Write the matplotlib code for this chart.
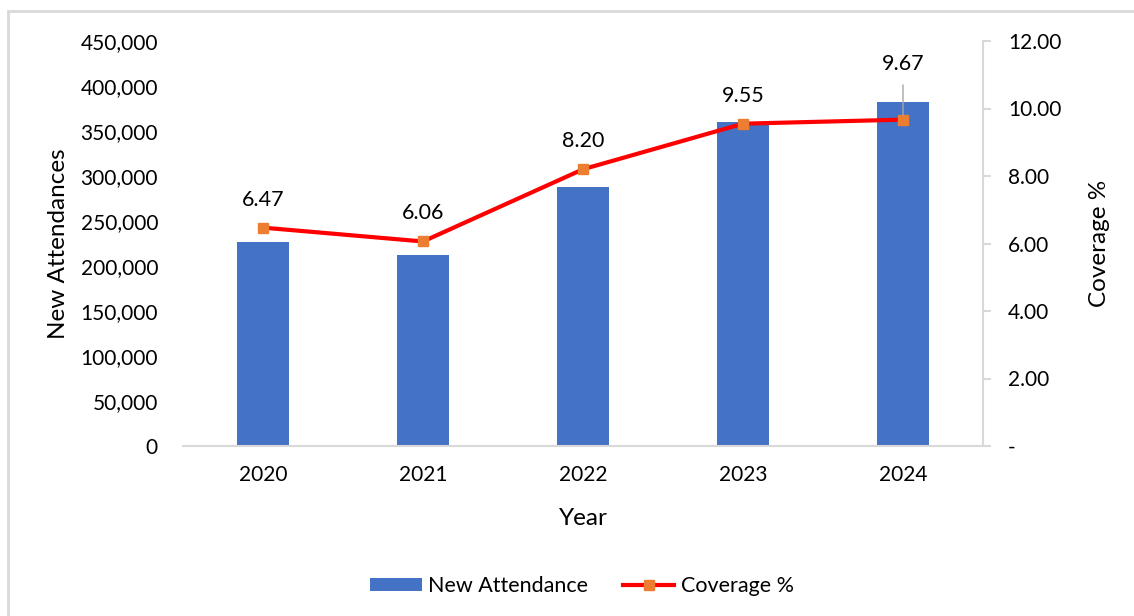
import matplotlib
matplotlib.use("Agg")
import matplotlib.pyplot as plt
from matplotlib.patches import Rectangle
from matplotlib.ticker import FuncFormatter

years = ["2020", "2021", "2022", "2023", "2024"]
new_attendance = [227000, 212000, 288000, 360000, 382000]
coverage = [6.47, 6.06, 8.20, 9.55, 9.67]
coverage_labels = ["6.47", "6.06", "8.20", "9.55", "9.67"]

plt.rcParams['font.family'] = ['Lato', 'DejaVu Sans']
FS = 15

fig = plt.figure(figsize=(11.34, 6.16), dpi=100)
fig.patches.append(Rectangle((8/1134, -0.1), 1.2, 1 - 11/616 + 0.1,
                             transform=fig.transFigure, fill=False,
                             edgecolor='#d9d9d9', linewidth=2, zorder=0))

ax = fig.add_axes([183/1134, 1 - 446/616, 800/1134, 405/616])
x = list(range(len(years)))
bars = ax.bar(x, new_attendance, width=0.32, color='#4472c4', label='New Attendance', zorder=2)
ax.set_xlim(-0.5, 4.5)
ax.set_ylim(0, 450000)
ax.set_yticks(range(0, 450001, 50000))
ax.yaxis.set_major_formatter(FuncFormatter(lambda v, p: f"{int(v):,}"))
ax.set_xticks(x)
ax.set_xticklabels(years)
ax.tick_params(axis='x', length=0, labelsize=FS, pad=14)
ax.tick_params(axis='y', length=0, labelsize=FS, pad=18)
for s in ['top', 'left', 'right']:
    ax.spines[s].set_visible(False)
ax.spines['bottom'].set_color('#d9d9d9')
ax.spines['bottom'].set_linewidth(1.5)
ax.set_ylabel('New Attendances', fontsize=17.5, labelpad=8)
ax.set_xlabel('Year', fontsize=17.5, labelpad=16)

ax2 = ax.twinx()
line, = ax2.plot(x, coverage, color='#ff0000', linewidth=3, marker='s',
                 markersize=7, markerfacecolor='#ed7d31', markeredgecolor='#ed7d31',
                 label='Coverage %', zorder=3)
ax2.set_ylim(0, 12)
ax2.set_yticks([0, 2, 4, 6, 8, 10, 12])
ax2.yaxis.set_major_formatter(FuncFormatter(lambda v, p: "-" if v == 0 else f"{v:.2f}"))
ax2.tick_params(axis='y', length=6, width=1.5, color='#d9d9d9', labelsize=FS, pad=12)
for s in ['top', 'left', 'bottom']:
    ax2.spines[s].set_visible(False)
ax2.spines['right'].set_color('#d9d9d9')
ax2.spines['right'].set_linewidth(1.5)
ax2.set_ylabel('Coverage %', fontsize=17.5, labelpad=20)

for i, (v, lab) in enumerate(zip(coverage, coverage_labels)):
    if i == len(coverage) - 1:
        ax2.annotate(lab, xy=(i, v), xytext=(0, 33), textcoords='offset points',
                     ha='center', va='bottom', fontsize=FS + 0.5,
                     arrowprops=dict(arrowstyle='-', color='#a6a6a6', lw=1,
                                     shrinkA=6, shrinkB=3))
    else:
        ax2.annotate(lab, xy=(i, v), xytext=(0, 13), textcoords='offset points',
                     ha='center', va='bottom', fontsize=FS + 0.5)

fig.legend([bars, line], ['New Attendance', 'Coverage %'], loc='center',
           bbox_to_anchor=(582/1134, 1 - 586/616), ncol=2, frameon=False,
           fontsize=15.5, handlelength=2.4, handleheight=0.6, columnspacing=1.6,
           handletextpad=0.3)

fig.savefig('out.png', dpi=100)
